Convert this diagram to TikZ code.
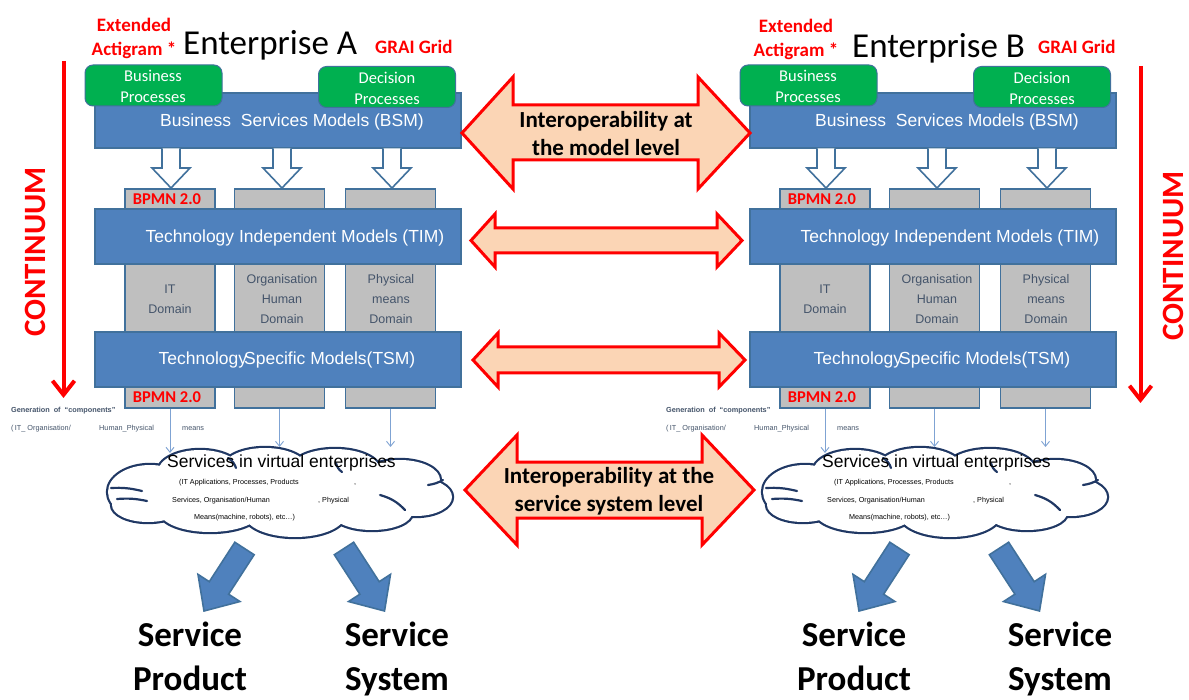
\documentclass[tikz,border=0pt]{standalone}
\usepackage{fontspec}
\setmainfont{Carlito}
\newfontfamily\arial{Liberation Sans}
\usetikzlibrary{arrows.meta,calc}
\definecolor{bsmblue}{HTML}{4F81BD}
\definecolor{bsmedge}{HTML}{41719C}
\definecolor{procgreen}{HTML}{00B050}
\definecolor{grayfill}{HTML}{BFBFBF}
\definecolor{peach}{HTML}{FBD5B5}
\definecolor{navy}{HTML}{203864}
\definecolor{slate}{HTML}{44546A}
\definecolor{lightarrow}{HTML}{7FA3D3}
\tikzset{
  modelbox/.style={draw=bsmedge, line width=1.6pt, fill=bsmblue, minimum width=366pt, minimum height=55pt, inner sep=0pt},
  modeltext/.style={font=\arial\fontsize{17.5}{21}\selectfont, text=white, inner sep=0pt},
  greenbox/.style={draw=bsmedge, line width=1pt, fill=procgreen, rounded corners=8pt, minimum width=137pt, minimum height=41pt, inner sep=0pt},
  greentext/.style={font=\fontsize{16.5}{21}\selectfont, text=white, align=center, inner sep=0pt},
  domaincol/.style={draw=bsmedge, line width=1.6pt, fill=grayfill, minimum width=90pt, minimum height=219pt, inner sep=0pt},
  coltext/.style={font=\arial\fontsize{12.5}{20}\selectfont, text=slate, align=center, inner sep=0pt},
  bpmn/.style={font=\bfseries\fontsize{16.5}{20}\selectfont, text=red, inner sep=0pt},
  hollow/.style={draw=bsmedge, line width=1.6pt, fill=white, line join=miter},
  thinarrow/.style={draw=lightarrow, line width=0.9pt, -{Straight Barb[length=5pt,width=8pt]}},
  lobeline/.style={draw=navy, line width=4.4pt},
  lobefill/.style={fill=white},
  innerarc/.style={draw=navy, line width=2.2pt, line cap=round},
  cloudtitle/.style={font=\arial\fontsize{17.5}{21}\selectfont, inner sep=0pt},
  cloudsmall/.style={font=\arial\fontsize{7.2}{9}\selectfont, inner sep=0pt, anchor=west},
  gensmall/.style={font=\arial\fontsize{7.3}{9}\selectfont, text=slate, inner sep=0pt, anchor=west},
  blockarrow/.style={draw=bsmedge, line width=1.6pt, fill=bsmblue, line join=miter},
  servlabel/.style={font=\bfseries\fontsize{35}{44}\selectfont, align=center, inner sep=0pt},
  redlabel/.style={font=\bfseries\fontsize{19}{24}\selectfont, text=red, align=center, inner sep=0pt},
  enttitle/.style={font=\fontsize{35}{40}\selectfont, inner sep=0pt, anchor=base west},
  interop/.style={draw=red, line width=3pt, fill=peach, line join=miter},
  interoptext/.style={font=\bfseries\fontsize{23}{28}\selectfont, align=center, inner sep=0pt},
  continuum/.style={draw=red, line width=4pt, -{Straight Barb[length=14pt,width=22pt]}},
  conttext/.style={font=\bfseries\fontsize{31}{31}\selectfont, text=red, rotate=90, inner sep=0pt},
}
\begin{document}
\begin{tikzpicture}[x=1pt,y=-1pt]
\fill[white] (0,0) rectangle (1189,700);
\useasboundingbox (0,0) rectangle (1189,700);

\foreach \p/\dx in {A/0,B/655}{
\begin{scope}[xshift=\dx pt, name prefix=\p-]
  % domain columns
  \node[domaincol] (col1) at (170,298.5) {};
  \node[domaincol] (col2) at (279.5,298.5) {};
  \node[domaincol] (col3) at (390.5,298.5) {};
  % model layers
  \node[modelbox] (tim) at (278,236.5) {};
  \node[modelbox] (tsm) at (278,359.5) {};
  \node[modelbox] (bsm) at (278,120.5) {};
  \node[modeltext] (bsmt) at (292,122) {Business\ \ Services Models (BSM)};
  \node[modeltext] (timt) at (295,238) {Technology Independent Models (TIM)};
  \node[modeltext] (tsmt) at (287,360) {Technology\kern-3pt\relax Specific Models(TSM)};
  % green process boxes
  \node[greenbox] (bp) at (153.5,85.5) {};
  \node[greentext] (bpt) at (153,86.5) {Business\\Processes};
  \node[greenbox] (dp) at (387,87) {};
  \node[greentext] (dpt) at (387,88.5) {Decision\\Processes};
  % hollow arrows
  \foreach \hx in {171,282,392}{
    \draw[hollow] (\hx-9,148.5) -- (\hx-9,168) -- (\hx-19,168) -- (\hx,188) -- (\hx+19,168) -- (\hx+9,168) -- (\hx+9,148.5);
  }
  % column texts
  \node[bpmn] (bpmn1) at (167,199) {BPMN 2.0};
  \node[bpmn] (bpmn2) at (167,397) {BPMN 2.0};
  \node[coltext] (it) at (170,299) {IT\\Domain};
  \node[coltext] (org) at (282,299) {Organisation\\Human\\Domain};
  \node[coltext] (phy) at (391,299) {Physical\\means\\Domain};
  % generation text
  \node[gensmall, font=\arial\bfseries\fontsize{7.3}{9}\selectfont] (gen) at (11,411) {Generation\ \ of\ \ “components”};
  \node[gensmall] (gen1) at (11,429) {(\,IT\_\ Organisation/};
  \node[gensmall] (gen2) at (99,429) {Human\_Physical};
  \node[gensmall] (gen3) at (182,429) {means};
  % cloud (lobes: outline, then white fill)
  \foreach \cx/\cy/\rx/\ry in {150/492/42/27, 200/472/42/22, 265/468/42/20, 335/470/45/21, 400/480/40/20, 416/497/36/19, 372/513/40/17, 295/515/50/22, 210/512/50/20, 148/505/36/17}{
    \draw[lobeline] (\cx,\cy) ellipse [x radius=\rx, y radius=\ry];
  }
  \foreach \cx/\cy/\rx/\ry in {150/492/42/27, 200/472/42/22, 265/468/42/20, 335/470/45/21, 400/480/40/20, 416/497/36/19, 372/513/40/17, 295/515/50/22, 210/512/50/20, 148/505/36/17, 280/492/140/30}{
    \fill[lobefill] (\cx,\cy) ellipse [x radius=\rx, y radius=\ry];
  }
  \node[minimum width=344pt, minimum height=88pt, inner sep=0pt] (cloud) at (280,492) {};
  \draw[innerarc] (111,488) to[bend left=8] (142,491);
  \draw[innerarc] (117,499) to[bend left=8] (147,501);
  \draw[innerarc] (428,485) to[bend right=10] (443,480);
  \draw[innerarc] (380,495) to[bend left=15] (405,510);
  \draw[innerarc] (228,458) to[bend left=20] (236,468);
  \draw[innerarc] (336,463) to[bend right=20] (342,472);
  \coordinate (c1) at (170,453);
  \coordinate (c2) at (279.5,447);
  \coordinate (c3) at (390.5,447);
  \draw[thinarrow] (col1.south) -- (c1);
  \draw[thinarrow] (col2.south) -- (c2);
  \draw[thinarrow] (col3.south) -- (c3);
  \node[cloudtitle] (svt) at (281.5,463) {Services in virtual enterprises};
  \node[cloudsmall] (s1) at (179,483) {(IT Applications,\ Processes,\ Products};
  \node[cloudsmall] (s1b) at (354,485) {,};
  \node[cloudsmall] (s2) at (172,501) {Services,\ Organisation/Human};
  \node[cloudsmall] (s2b) at (318,501) {,\ Physical};
  \node[cloudsmall] (s3) at (194,518) {Means(machine,\ robots),\ etc\ldots)};
  % block arrows
  \draw[blockarrow] (234.85,542.25) -- (209.3,581.7) -- (197.97,574.36) -- (204,611) -- (239.93,601.54) -- (228.6,594.2) -- (254.15,554.75) -- cycle;
  \draw[blockarrow] (353.65,542.25) -- (379.2,581.7) -- (390.53,574.36) -- (384.5,611) -- (348.57,601.54) -- (359.9,594.2) -- (334.35,554.75) -- cycle;
\end{scope}
}

% titles
\node[redlabel] (extA) at (134,38) {Extended\\Actigram *};
\node[enttitle] (entA) at (183,55) {Enterprise A};
\node[redlabel, anchor=base west] (graiA) at (375,54) {GRAI Grid};
\node[redlabel] (extB) at (796,39) {Extended\\Actigram *};
\node[enttitle] (entB) at (852,58) {Enterprise B};
\node[redlabel, anchor=base west] (graiB) at (1038,54) {GRAI Grid};

% continuum
\coordinate (ctA1) at (63.5,61);
\coordinate (ctA2) at (63.5,398);
\draw[continuum] (ctA1) -- (ctA2);
\node[conttext] (contA) at (35,252) {CONTINUUM};
\coordinate (ctB1) at (1140.5,66);
\coordinate (ctB2) at (1140.5,403);
\draw[continuum] (ctB1) -- (ctB2);
\node[conttext] (contB) at (1173,256) {CONTINUUM};

% interoperability arrows
\draw[interop] (462,133) -- (513,77) -- (513,105) -- (698,105) -- (698,77) -- (750,133) -- (698,189) -- (698,160) -- (513,160) -- (513,189) -- cycle;
\node[interoptext] (io1) at (606,134) {Interoperability at\\the model level};
\draw[interop] (471,240.5) -- (495,214) -- (495,228) -- (717,228) -- (717,214) -- (742,240.5) -- (717,267) -- (717,253) -- (495,253) -- (495,267) -- cycle;
\draw[interop] (473,360) -- (498,333) -- (498,347) -- (719,347) -- (719,333) -- (745,360) -- (719,387) -- (719,373) -- (498,373) -- (498,387) -- cycle;
\draw[interop] (465,490) -- (517,435) -- (517,462) -- (702,462) -- (702,435) -- (754,490) -- (702,545) -- (702,518) -- (517,518) -- (517,545) -- cycle;
\node[interoptext] (io2) at (609,491) {Interoperability at the\\service system level};

% service labels
\node[servlabel] (spA) at (190,656) {Service\\Product};
\node[servlabel] (ssA) at (397,659) {Service\\System};
\node[servlabel] (spB) at (854,656) {Service\\Product};
\node[servlabel] (ssB) at (1060,659) {Service\\System};
\end{tikzpicture}
\end{document}
